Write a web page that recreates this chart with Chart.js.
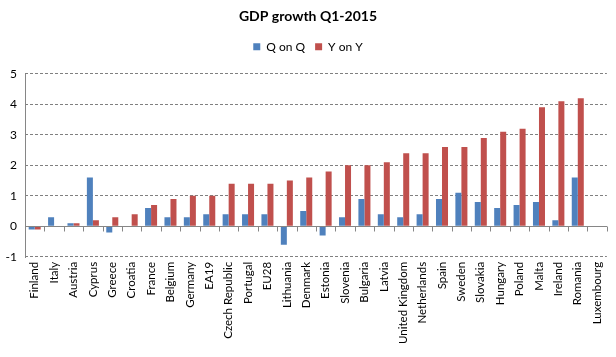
<!DOCTYPE html>
<html><head><meta charset="utf-8">
<script src="https://cdn.jsdelivr.net/npm/chart.js@4"></script>
<style>html,body{margin:0;padding:0;background:#fff}#w{width:616px;height:357px}</style>
</head><body><div id="w"><canvas id="c"></canvas></div>
<script>
const categories = ["Finland","Italy","Austria","Cyprus","Greece","Croatia","France","Belgium","Germany","EA19","Czech Republic","Portugal","EU28","Lithuania","Denmark","Estonia","Slovenia","Bulgaria","Latvia","United Kingdom","Netherlands","Spain","Sweden","Slovakia","Hungary","Poland","Malta","Ireland","Romania","Luxembourg"];
const qOnQ = [-0.1,0.3,0.1,1.6,-0.2,null,0.6,0.3,0.3,0.4,0.4,0.4,0.4,-0.6,0.5,-0.3,0.3,0.9,0.4,0.3,0.4,0.9,1.1,0.8,0.6,0.7,0.8,0.2,1.6,null];
const yOnY = [-0.1,null,0.1,0.2,0.3,0.4,0.7,0.9,1.0,1.0,1.4,1.4,1.4,1.5,1.6,1.8,2.0,2.0,2.1,2.4,2.4,2.6,2.6,2.9,3.1,3.2,3.9,4.1,4.2,null];
const yTicks = [-1,0,1,2,3,4,5];
const FONT = "Lato, 'Open Sans', sans-serif";

const legendGap = {
  id:'legendGap',
  beforeInit(chart){
    const lg = chart.legend;
    if(lg && !lg._patched){
      const orig = lg.fit;
      lg.fit = function(){ orig.call(this); this.height += 11; };
      lg._patched = true;
    }
  }
};

const axes = {
  id:'axes',
  afterDatasetsDraw(chart){
    const {ctx, scales:{x,y}} = chart;
    const y0 = Math.round(y.getPixelForValue(0))+0.5;
    const xl = Math.round(x.left)+0.5;
    ctx.save();
    ctx.strokeStyle = '#868686';
    ctx.lineWidth = 1;
    ctx.setLineDash([]);
    ctx.beginPath();
    ctx.moveTo(xl, Math.round(y.top)); ctx.lineTo(xl, Math.round(y.bottom)+1);
    ctx.moveTo(x.left, y0); ctx.lineTo(x.right, y0);
    const n = categories.length;
    const w = (x.right - x.left)/n;
    for(let i=0;i<=n;i++){
      const px = Math.round(x.left + i*w)+0.5;
      ctx.moveTo(px,y0); ctx.lineTo(px,y0+5);
    }
    ctx.stroke();
    ctx.restore();
  }
};

new Chart(document.getElementById('c'), {
  type:'bar',
  data:{labels:categories, datasets:[
    {label:'Q on Q', data:qOnQ, backgroundColor:'#4F81BD'},
    {label:'Y on Y', data:yOnY, backgroundColor:'#C0504D'}
  ]},
  options:{
    responsive:true, maintainAspectRatio:false, animation:false,
    layout:{padding:{left:2,right:2,top:6,bottom:8}},
    datasets:{bar:{categoryPercentage:0.62,barPercentage:1}},
    plugins:{
      title:{display:true,text:'GDP growth Q1-2015',color:'#000',font:{family:FONT,size:14,weight:'bold'},padding:{top:2,bottom:6}},
      legend:{display:true,labels:{boxWidth:7,boxHeight:7,color:'#000',font:{family:FONT,size:12},padding:10}},
      tooltip:{enabled:false}
    },
    scales:{
      x:{
        grid:{display:false,drawTicks:false},
        border:{display:false},
        ticks:{color:'#000',font:{family:FONT,size:11.5},maxRotation:90,minRotation:90,autoSkip:false,padding:5}
      },
      y:{
        min:-1,max:5,
        afterBuildTicks(s){s.ticks = yTicks.map(v=>({value:v}));},
        afterFit(s){s.width=23;},
        grid:{color:'#808080',drawTicks:false},
        border:{display:false,dash:[3,2]},
        ticks:{color:'#000',font:{family:FONT,size:12},padding:8}
      }
    }
  },
  plugins:[legendGap, axes]
});
</script></body></html>
